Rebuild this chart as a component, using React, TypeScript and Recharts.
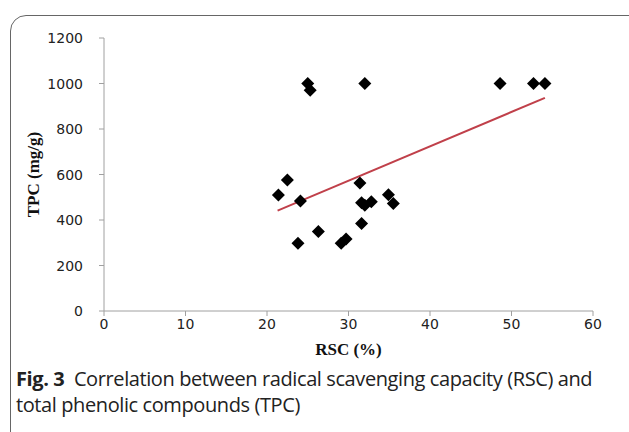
import { ScatterChart, Scatter, XAxis, YAxis, ReferenceLine } from 'recharts';

// RSC (%) vs TPC (mg/g)
const rscValues = [25.0, 25.3, 32.0, 22.5, 21.4, 24.1, 31.4, 34.9, 35.5, 31.6, 32.0, 32.8, 31.6, 26.3, 23.8, 29.1, 29.7, 48.6, 52.7, 54.1];
const tpcValues = [1000, 970, 1000, 576, 510, 484, 563, 511, 473, 476, 465, 480, 385, 349, 298, 298, 316, 1000, 1000, 1000];

// linear trend line end points
const trendX = [21.3, 54.1];
const trendY = [441, 937];

const xTicks = [0, 10, 20, 30, 40, 50, 60];
const yTicks = [0, 200, 400, 600, 800, 1000, 1200];

const points = rscValues.map((x, i) => ({ x, y: tpcValues[i] }));

const axisColor = '#a0a0a0';
const tickFont = '"DejaVu Sans", sans-serif';
const titleStyle = { fontFamily: '"Liberation Serif", "Times New Roman", serif', fontWeight: 'bold', fontSize: 17, fill: '#111' };

function XTick(props: any) {
  const { x, y, payload } = props;
  return (
    <text x={x} y={y + 11} textAnchor="middle" fontSize={14} fontFamily={tickFont} fill="#222">
      {payload.value}
    </text>
  );
}

function YTick(props: any) {
  const { x, y, payload } = props;
  return (
    <text x={x} y={y + 5} textAnchor="end" fontSize={14} fontFamily={tickFont} fill="#222">
      {payload.value}
    </text>
  );
}

function Diamond(props: any) {
  const { cx, cy } = props;
  const r = 6.5;
  return <path d={`M${cx},${cy - r}L${cx + r},${cy}L${cx},${cy + r}L${cx - r},${cy}Z`} fill="#000" />;
}

export default function App() {
  return (
    <div style={{ position: 'absolute', left: 0, top: 0, width: 629, height: 432, overflow: 'hidden', background: '#fff' }}>
      <div
        style={{
          position: 'absolute',
          left: 10,
          top: 15,
          width: 700,
          height: 500,
          border: '1.5px solid #666',
          borderTopLeftRadius: 16,
        }}
      />
      <div style={{ position: 'absolute', left: 0, top: 0 }}>
        <ScatterChart width={629} height={432} margin={{ top: 38, right: 36, bottom: 61, left: 0 }}>
          <XAxis
            type="number"
            dataKey="x"
            domain={[0, 60]}
            ticks={xTicks}
            height={60}
            stroke={axisColor}
            tickSize={5}
            tickMargin={2}
            tick={XTick}
            label={{ value: 'RSC (%)', position: 'insideTop', offset: 32, style: titleStyle }}
          />
          <YAxis
            type="number"
            dataKey="y"
            domain={[0, 1200]}
            ticks={yTicks}
            width={104}
            stroke={axisColor}
            tickSize={5}
            tickMargin={16}
            tick={YTick}
            label={{ value: 'TPC (mg/g)', angle: -90, position: 'center', dx: -19, style: { ...titleStyle, textAnchor: 'middle' } }}
          />
          <ReferenceLine
            segment={[
              { x: trendX[0], y: trendY[0] },
              { x: trendX[1], y: trendY[1] },
            ]}
            stroke="#c0404a"
            strokeWidth={2}
            ifOverflow="visible"
          />
          <Scatter data={points} shape={Diamond} isAnimationActive={false} />
        </ScatterChart>
      </div>
      <div
        style={{
          position: 'absolute',
          left: 16,
          top: 366,
          width: 610,
          fontFamily: '"Open Sans", sans-serif',
          fontSize: 20,
          lineHeight: '26px',
          color: '#222',
          letterSpacing: -0.4,
        }}
      >
        <b>Fig. 3</b>&nbsp; Correlation between radical scavenging capacity (RSC) and
        <br />
        total phenolic compounds (TPC)
      </div>
    </div>
  );
}
